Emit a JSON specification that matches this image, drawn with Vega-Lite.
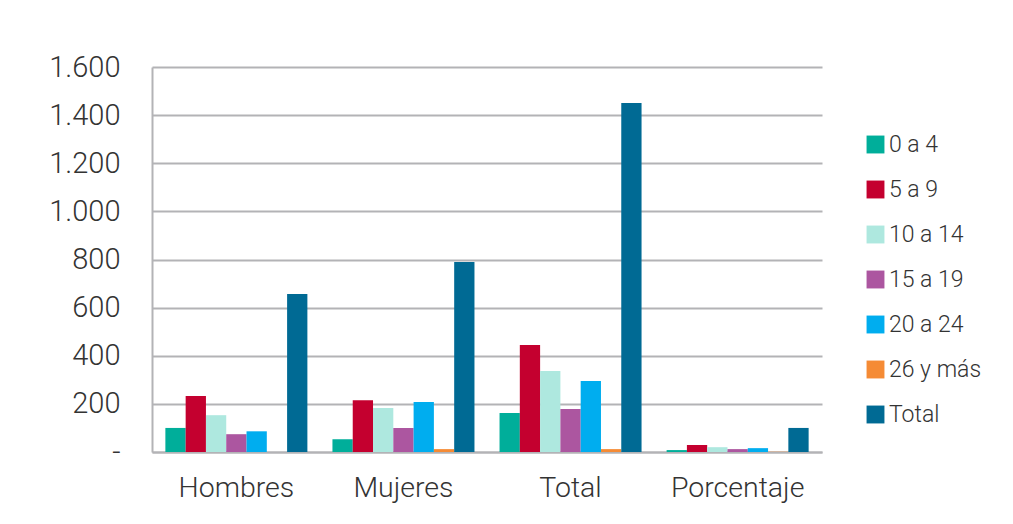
{
  "$schema": "https://vega.github.io/schema/vega-lite/v6.json",
  "width": 670,
  "height": 385,
  "autosize": {"type": "none"},
  "padding": {"left": 152, "top": 67, "right": 191, "bottom": 72},
  "background": "white",
  "config": {
    "view": {"stroke": null},
    "font": "Roboto",
    "axis": {"labelFont": "Roboto", "labelColor": "#333333", "labelFontWeight": 300},
    "legend": {"labelFont": "Roboto", "labelColor": "#333333", "labelFontWeight": 300}
  },
  "data": {
    "values": [
      {"cat": "Hombres", "grupo": "0 a 4", "v": 100},
      {"cat": "Hombres", "grupo": "5 a 9", "v": 233},
      {"cat": "Hombres", "grupo": "10 a 14", "v": 153},
      {"cat": "Hombres", "grupo": "15 a 19", "v": 74},
      {"cat": "Hombres", "grupo": "20 a 24", "v": 86},
      {"cat": "Hombres", "grupo": "26 y más", "v": 0},
      {"cat": "Hombres", "grupo": "Total", "v": 657},
      {"cat": "Mujeres", "grupo": "0 a 4", "v": 53},
      {"cat": "Mujeres", "grupo": "5 a 9", "v": 215},
      {"cat": "Mujeres", "grupo": "10 a 14", "v": 183},
      {"cat": "Mujeres", "grupo": "15 a 19", "v": 100},
      {"cat": "Mujeres", "grupo": "20 a 24", "v": 208},
      {"cat": "Mujeres", "grupo": "26 y más", "v": 12},
      {"cat": "Mujeres", "grupo": "Total", "v": 790},
      {"cat": "Total", "grupo": "0 a 4", "v": 162},
      {"cat": "Total", "grupo": "5 a 9", "v": 445},
      {"cat": "Total", "grupo": "10 a 14", "v": 337},
      {"cat": "Total", "grupo": "15 a 19", "v": 179},
      {"cat": "Total", "grupo": "20 a 24", "v": 295},
      {"cat": "Total", "grupo": "26 y más", "v": 12},
      {"cat": "Total", "grupo": "Total", "v": 1450},
      {"cat": "Porcentaje", "grupo": "0 a 4", "v": 8},
      {"cat": "Porcentaje", "grupo": "5 a 9", "v": 29},
      {"cat": "Porcentaje", "grupo": "10 a 14", "v": 20},
      {"cat": "Porcentaje", "grupo": "15 a 19", "v": 12},
      {"cat": "Porcentaje", "grupo": "20 a 24", "v": 16},
      {"cat": "Porcentaje", "grupo": "26 y más", "v": 1},
      {"cat": "Porcentaje", "grupo": "Total", "v": 100}
    ]
  },
  "layer": [
    {
      "mark": {"type": "bar"},
      "encoding": {
        "x": {
          "field": "cat", "type": "nominal",
          "sort": ["Hombres", "Mujeres", "Total", "Porcentaje"],
          "scale": {"paddingInner": 0.15, "paddingOuter": 0.08},
          "axis": {
            "title": null, "labelAngle": 0, "labelFontSize": 28.5,
            "labelPadding": 21, "ticks": false,
            "domainColor": "#b3b3b6", "domainWidth": 2
          }
        },
        "xOffset": {
          "field": "grupo", "type": "nominal",
          "sort": ["0 a 4", "5 a 9", "10 a 14", "15 a 19", "20 a 24", "26 y más", "Total"],
          "scale": {"paddingInner": 0, "paddingOuter": 0}
        },
        "y": {
          "field": "v", "type": "quantitative",
          "scale": {"domain": [0, 1600], "nice": false},
          "axis": {
            "title": null, "values": [0, 200, 400, 600, 800, 1000, 1200, 1400, 1600],
            "labelExpr": "datum.value == 0 ? '-' : replace(format(datum.value, ','), ',', '.')",
            "labelFontSize": 29, "labelPadding": 32, "ticks": false,
            "gridColor": "#b3b3b6", "gridWidth": 2,
            "domainColor": "#b3b3b6", "domainWidth": 2
          }
        },
        "color": {
          "field": "grupo", "type": "nominal",
          "sort": ["0 a 4", "5 a 9", "10 a 14", "15 a 19", "20 a 24", "26 y más", "Total"],
          "scale": {
            "domain": ["0 a 4", "5 a 9", "10 a 14", "15 a 19", "20 a 24", "26 y más", "Total"],
            "range": ["#00AE9A", "#C4002F", "#AEE8DF", "#AC56A0", "#00ADEF", "#F58B35", "#006A94"]
          },
          "legend": {
            "title": null, "orient": "none", "legendX": 712, "legendY": 66,
            "symbolType": "square", "symbolSize": 320, "symbolStrokeWidth": 0,
            "labelFontSize": 23, "rowPadding": 21, "labelOffset": 2
          }
        }
      }
    }
  ]
}
